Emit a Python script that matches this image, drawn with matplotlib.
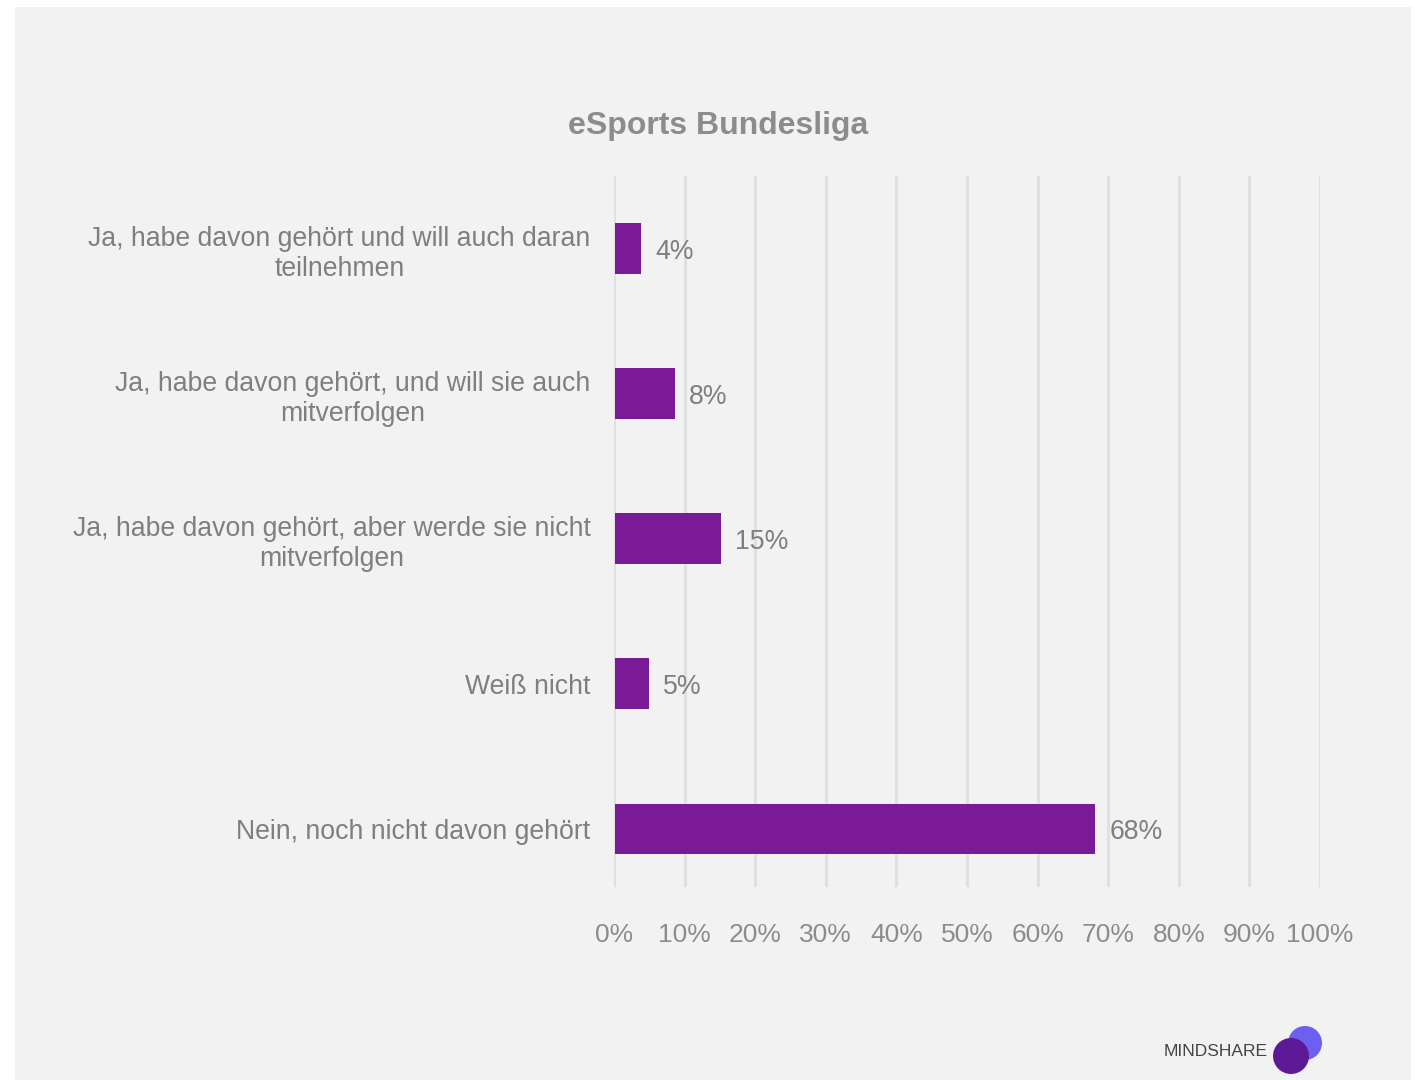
import matplotlib.pyplot as plt
from matplotlib.patches import Rectangle, Ellipse

categories = [
    'Ja, habe davon gehört und will auch daran\nteilnehmen',
    'Ja, habe davon gehört, und will sie auch\nmitverfolgen',
    'Ja, habe davon gehört, aber werde sie nicht\nmitverfolgen',
    'Weiß nicht',
    'Nein, noch nicht davon gehört',
]
values = [3.6, 8.4, 15.0, 4.7, 68.0]
value_labels = ['4%', '8%', '15%', '5%', '68%']
x_ticks = [0, 10, 20, 30, 40, 50, 60, 70, 80, 90, 100]

plt.rcParams['font.family'] = ['Liberation Sans', 'DejaVu Sans']

W, H = 1420, 1080
fig = plt.figure(figsize=(14.2, 10.8), dpi=100)
fig.patch.set_facecolor('white')
fig.patches.append(Rectangle((15 / W, 0), (1411 - 15) / W, (1080 - 7) / H,
                             transform=fig.transFigure, facecolor='#f2f2f2',
                             edgecolor='none', zorder=-5))

ax = fig.add_axes([614 / W, 1 - 887 / H, (1320 - 614) / W, (887 - 176) / H])
ax.set_facecolor('none')
ax.set_zorder(2)

pos = list(range(len(categories)))
ax.barh(pos, values, height=0.35, left=0.2, color='#7a1a97', zorder=3)
for p, v, lab in zip(pos, values, value_labels):
    ax.text(v + 2.2, p, lab, va='center_baseline', ha='left', fontsize=19.2,
            color='#7f7f7f')

ax.set_xlim(0, 100)
ax.set_ylim(4.4, -0.5)
ax.set_xticks(x_ticks)
ax.set_xticklabels([f'{t}%' for t in x_ticks])
ax.set_yticks(pos)
ax.set_yticklabels(categories)
for lbl in ax.get_yticklabels():
    lbl.set_multialignment('center')

ax.grid(axis='x', color='#e0e0e0', linewidth=2.2, zorder=1)
ax.set_axisbelow(True)
ax.tick_params(axis='x', length=0, pad=26, labelsize=19, labelcolor='#8c8c8c')
ax.tick_params(axis='y', length=0, pad=17, labelsize=19.2, labelcolor='#7f7f7f')
for s in ax.spines.values():
    s.set_visible(False)

fig.text(718 / W, 1 - 126 / H, 'eSports Bundesliga', ha='center', va='center',
         fontsize=23, fontweight='bold', color='#8c8c8c')

# logo
fig.text(1268 / W, 1 - 1052 / H, 'MINDSHARE', ha='right', va='center',
         fontsize=12.5, color='#444444')
fig.patches.append(Ellipse((1305 / W, 1 - 1043 / H), 34 / W, 34 / H,
                           transform=fig.transFigure, facecolor='#6d5ff0',
                           edgecolor='none', zorder=2))
fig.patches.append(Ellipse((1291 / W, 1 - 1056 / H), 36 / W, 36 / H,
                           transform=fig.transFigure, facecolor='#5e1a96',
                           edgecolor='none', zorder=3))

fig.savefig('out.png', dpi=100)
